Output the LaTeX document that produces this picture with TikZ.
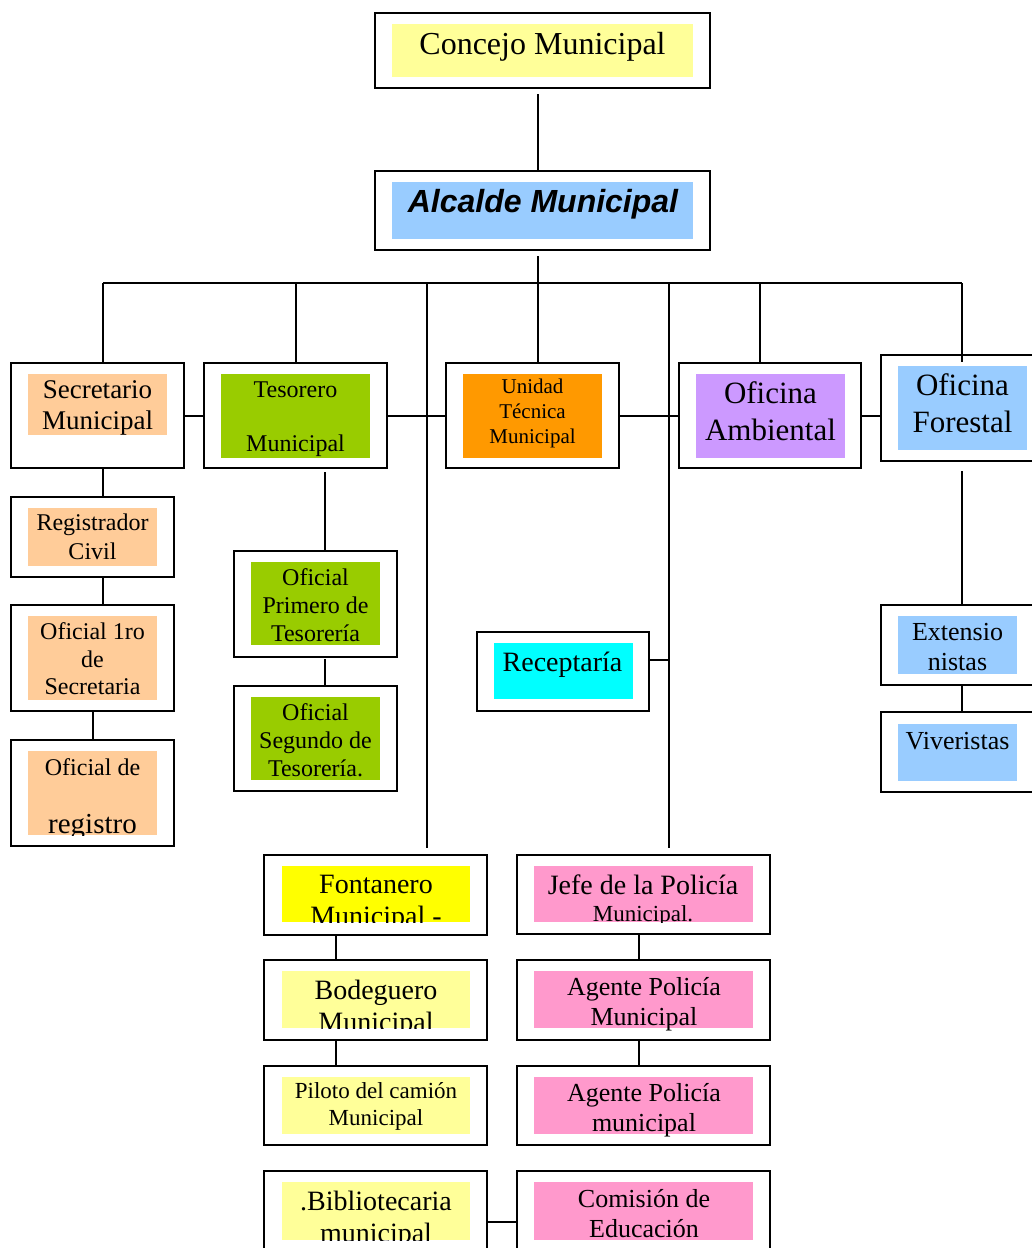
\documentclass[tikz,border=0pt]{standalone}
\usepackage{fontspec}
\setmainfont{Liberation Serif}
\newfontfamily\arialfam{Liberation Sans}
\usetikzlibrary{calc}
\definecolor{cyel}{HTML}{FFFF99}
\definecolor{cblue}{HTML}{99CCFF}
\definecolor{cpeach}{HTML}{FFCC99}
\definecolor{cgreen}{HTML}{99CC00}
\definecolor{corange}{HTML}{FF9900}
\definecolor{clav}{HTML}{CC99FF}
\definecolor{ccyan}{HTML}{00FFFF}
\definecolor{cyellow}{HTML}{FFFF00}
\definecolor{cpink}{HTML}{FF99CC}
\newcommand\myfs[2]{\fontsize{#1}{#2}\selectfont}
\tikzset{
  obox/.style={draw=black, line width=2.5pt, fill=white, inner sep=0pt, outer sep=0pt},
  ifill/.style={fill=#1, draw=none, inner sep=0pt, outer sep=0pt},
  txt/.style={inner sep=0pt, outer sep=0pt, align=center, text=black},
  conn/.style={draw=black, line width=2pt}
}
\begin{document}
\begin{tikzpicture}[x=1pt,y=-1pt]
\useasboundingbox[fill=white] (0,0) rectangle (1032,1248);

% ---------- top ----------
\node[obox, minimum width=335pt, minimum height=75pt] (con) at (542.5,50.5) {};
\node[ifill=cyel, minimum width=301pt, minimum height=53pt] (conF) at (542.5,50.5) {};
\node[txt, font=\myfs{32}{36}] (conT) at (542.5,47) {Concejo Municipal};

\node[obox, minimum width=335pt, minimum height=79pt] (alc) at (542.5,210.5) {};
\node[ifill=cblue, minimum width=301pt, minimum height=57pt] (alcF) at (542.5,210.5) {};
\node[txt, font=\arialfam\bfseries\itshape\myfs{32}{36}] (alcT) at (543,204) {Alcalde Municipal};

% ---------- row 1 ----------
\node[obox, minimum width=173pt, minimum height=105pt] (sec) at (97.5,415.5) {};
\node[ifill=cpeach, minimum width=139pt, minimum height=61pt] (secF) at (97.5,404.5) {};
\node[txt, font=\myfs{27}{31}] (secT) at (97.5,408) {Secretario\\Municipal};

\node[obox, minimum width=183pt, minimum height=105pt] (tes) at (295.5,415.5) {};
\node[ifill=cgreen, minimum width=149pt, minimum height=84pt] (tesF) at (295.5,416) {};
\node[txt, font=\myfs{24}{27}] (tesT) at (295.5,419) {Tesorero\\[27pt]Municipal};

\node[obox, minimum width=173pt, minimum height=105pt] (uni) at (532.5,415.5) {};
\node[ifill=corange, minimum width=139pt, minimum height=84pt] (uniF) at (532.5,416) {};
\node[txt, font=\myfs{21}{25}] (uniT) at (532.5,413) {Unidad\\Técnica\\Municipal};

\node[obox, minimum width=182pt, minimum height=105pt] (amb) at (770,415.5) {};
\node[ifill=clav, minimum width=149pt, minimum height=84pt] (ambF) at (770.5,416) {};
\node[txt, font=\myfs{31}{37}] (ambT) at (770.5,411) {Oficina\\Ambiental};

\node[obox, minimum width=161pt, minimum height=106pt] (for) at (961.5,408) {};
\node[ifill=cblue, minimum width=129pt, minimum height=84pt] (forF) at (962.5,408) {};
\node[txt, font=\myfs{31}{37}] (forT) at (962.5,403) {Oficina\\Forestal};

% ---------- secretario column ----------
\node[obox, minimum width=163pt, minimum height=80pt] (reg) at (92.5,537) {};
\node[ifill=cpeach, minimum width=129pt, minimum height=58pt] (regF) at (92.5,537) {};
\node[txt, font=\myfs{24}{29}] (regT) at (92.5,537) {Registrador\\Civil};

\node[obox, minimum width=163pt, minimum height=106pt] (ofa) at (92.5,658) {};
\node[ifill=cpeach, minimum width=129pt, minimum height=84pt] (ofaF) at (92.5,658) {};
\node[txt, font=\myfs{24}{27.5}] (ofaT) at (92.5,659) {Oficial 1ro\\de\\Secretaria};

\node[obox, minimum width=163pt, minimum height=106pt] (ofr) at (92.5,793) {};
\node[ifill=cpeach, minimum width=129pt, minimum height=84pt] (ofrF) at (92.5,793) {};
\node[txt, font=\myfs{24}{28}] (ofrT) at (92.5,767) {Oficial de};
\begin{scope}
\clip (ofrF.south west) rectangle (ofrF.north east);
\node[txt, font=\myfs{29}{32}] (ofrU) at (92.5,827) {registro};
\end{scope}

% ---------- tesorero column ----------
\node[obox, minimum width=163pt, minimum height=106pt] (opr) at (315.5,604) {};
\node[ifill=cgreen, minimum width=129pt, minimum height=83pt] (oprF) at (315.5,603.5) {};
\node[txt, font=\myfs{24}{28}] (oprT) at (315.5,605) {Oficial\\Primero de\\Tesorería};

\node[obox, minimum width=163pt, minimum height=105pt] (osg) at (315.5,738.5) {};
\node[ifill=cgreen, minimum width=129pt, minimum height=83pt] (osgF) at (315.5,738.5) {};
\node[txt, font=\myfs{24}{28}] (osgT) at (315.5,740) {Oficial\\Segundo de\\Tesorería.};

% ---------- receptaria ----------
\node[obox, minimum width=172pt, minimum height=79pt] (rec) at (563,671.5) {};
\node[ifill=ccyan, minimum width=139pt, minimum height=56pt] (recF) at (563.5,671) {};
\node[txt, font=\myfs{28}{32}] (recT) at (562.5,665) {Receptaría};

% ---------- forestal column ----------
\node[obox, minimum width=155pt, minimum height=80pt] (ext) at (958.5,645) {};
\node[ifill=cblue, minimum width=119pt, minimum height=58pt] (extF) at (957.5,645) {};
\node[txt, font=\myfs{26}{30}] (extT) at (957.5,647) {Extensio\\nistas};

\node[obox, minimum width=155pt, minimum height=80pt] (viv) at (958.5,752) {};
\node[ifill=cblue, minimum width=119pt, minimum height=57pt] (vivF) at (957.5,752.5) {};
\node[txt, font=\myfs{26}{30}] (vivT) at (957.5,741) {Viveristas};

% ---------- bottom left column ----------
\node[obox, minimum width=223pt, minimum height=80pt] (fon) at (375.5,895) {};
\node[ifill=cyellow, minimum width=188pt, minimum height=56pt] (fonF) at (376,894) {};
\begin{scope}
\clip (fonF.south west) rectangle (fonF.north east);
\node[txt, font=\myfs{28}{32}] (fonT) at (376,903.5) {Fontanero\\Municipal -};
\end{scope}

\node[obox, minimum width=223pt, minimum height=80pt] (bod) at (375.5,1000) {};
\node[ifill=cyel, minimum width=188pt, minimum height=57pt] (bodF) at (376,999.5) {};
\begin{scope}
\clip (bodF.south west) rectangle (bodF.north east);
\node[txt, font=\myfs{28}{32}] (bodT) at (376,1008.5) {Bodeguero\\Municipal};
\end{scope}

\node[obox, minimum width=223pt, minimum height=79pt] (pil) at (375.5,1105.5) {};
\node[ifill=cyel, minimum width=188pt, minimum height=57pt] (pilF) at (376,1105.5) {};
\node[txt, font=\myfs{23}{27}] (pilT) at (376,1106) {Piloto del camión\\Municipal};

\node[obox, minimum width=223pt, minimum height=91pt] (bib) at (375.5,1216.5) {};
\node[ifill=cyel, minimum width=188pt, minimum height=58pt] (bibF) at (376,1211) {};
\begin{scope}
\clip (bibF.south west) rectangle (bibF.north east);
\node[txt, font=\myfs{28}{32}] (bibT) at (376,1219.5) {.Bibliotecaria\\municipal};
\end{scope}

% ---------- bottom right column ----------
\node[obox, minimum width=253pt, minimum height=79pt] (jef) at (643.5,894.5) {};
\node[ifill=cpink, minimum width=219pt, minimum height=56pt] (jefF) at (643.5,894) {};
\node[txt, font=\myfs{28}{32}] (jefT) at (643,885) {Jefe de la Policía};
\begin{scope}
\clip (jefF.south west) rectangle (jefF.north east);
\node[txt, font=\myfs{23}{27}] (jefU) at (643,916) {Municipal.};
\end{scope}

\node[obox, minimum width=253pt, minimum height=80pt] (ag1) at (643.5,1000) {};
\node[ifill=cpink, minimum width=219pt, minimum height=57pt] (ag1F) at (643.5,999.5) {};
\node[txt, font=\myfs{26}{30}] (ag1T) at (644,1004.5) {Agente Policía\\Municipal};

\node[obox, minimum width=253pt, minimum height=79pt] (ag2) at (643.5,1105.5) {};
\node[ifill=cpink, minimum width=219pt, minimum height=57pt] (ag2F) at (643.5,1105.5) {};
\node[txt, font=\myfs{26}{30}] (ag2T) at (644,1110) {Agente Policía\\municipal};

\node[obox, minimum width=253pt, minimum height=91pt] (com) at (643.5,1216.5) {};
\node[ifill=cpink, minimum width=219pt, minimum height=58pt] (comF) at (643.5,1211) {};
\node[txt, font=\myfs{26}{30}] (comT) at (644,1214) {Comisión de\\Educación};

% ---------- connectors ----------
\coordinate (j1) at (103,283);
\coordinate (j2) at (295.5,283);
\coordinate (j3) at (427,283);
\coordinate (j4) at (538,283);
\coordinate (j5) at (669,283);
\coordinate (j6) at (760,283);
\coordinate (j7) at (962,283);
\coordinate (xT) at (325,0);
\coordinate (xF) at (336,0);
\coordinate (xJ) at (639,0);

\draw[conn] ($(con.south -| j4)+(0,6)$) -- (alc.north -| j4);
\draw[conn] ($(alc.south -| j4)+(0,6)$) -- (j4);
\draw[conn] (j1) -- (j7);
\draw[conn] (j1) -- (j1 |- sec.north);
\draw[conn] (j2) -- (tes.north);
\draw[conn] (j3) -- ($(j3 |- fon.north)+(0,-7)$);
\draw[conn] (j4) -- (j4 |- uni.north);
\draw[conn] (j5) -- ($(j5 |- jef.north)+(0,-7)$);
\draw[conn] (j6) -- (j6 |- amb.north);
\draw[conn] (j7) -- ($(j7 |- forF.north)+(0,-4)$);

\draw[conn] (sec.east) -- (tes.west);
\draw[conn] (tes.east) -- (uni.west);
\draw[conn] (uni.east) -- (amb.west);
\draw[conn] (amb.east) -- (amb.east -| for.west);

\draw[conn] (j1 |- sec.south) -- (j1 |- reg.north);
\draw[conn] (j1 |- reg.south) -- (j1 |- ofa.north);
\draw[conn] (ofa.south) -- (ofr.north);

\draw[conn] ($(xT |- tes.south)+(0,4)$) -- (xT |- opr.north);
\draw[conn] ($(xT |- opr.south)+(0,2)$) -- (xT |- osg.north);

\coordinate (rj) at (669,660);
\draw[conn] (rj -| rec.east) -- (rj);

\draw[conn] ($(j7 |- for.south)+(0,10)$) -- (j7 |- ext.north);
\draw[conn] (j7 |- ext.south) -- (j7 |- viv.north);

\draw[conn] (xF |- fon.south) -- (xF |- bod.north);
\draw[conn] (xF |- bod.south) -- (xF |- pil.north);

\draw[conn] (xJ |- jef.south) -- (xJ |- ag1.north);
\draw[conn] (xJ |- ag1.south) -- (xJ |- ag2.north);

\coordinate (bj) at (0,1222);
\draw[conn] (bj -| bib.east) -- (bj -| com.west);
\end{tikzpicture}
\end{document}
